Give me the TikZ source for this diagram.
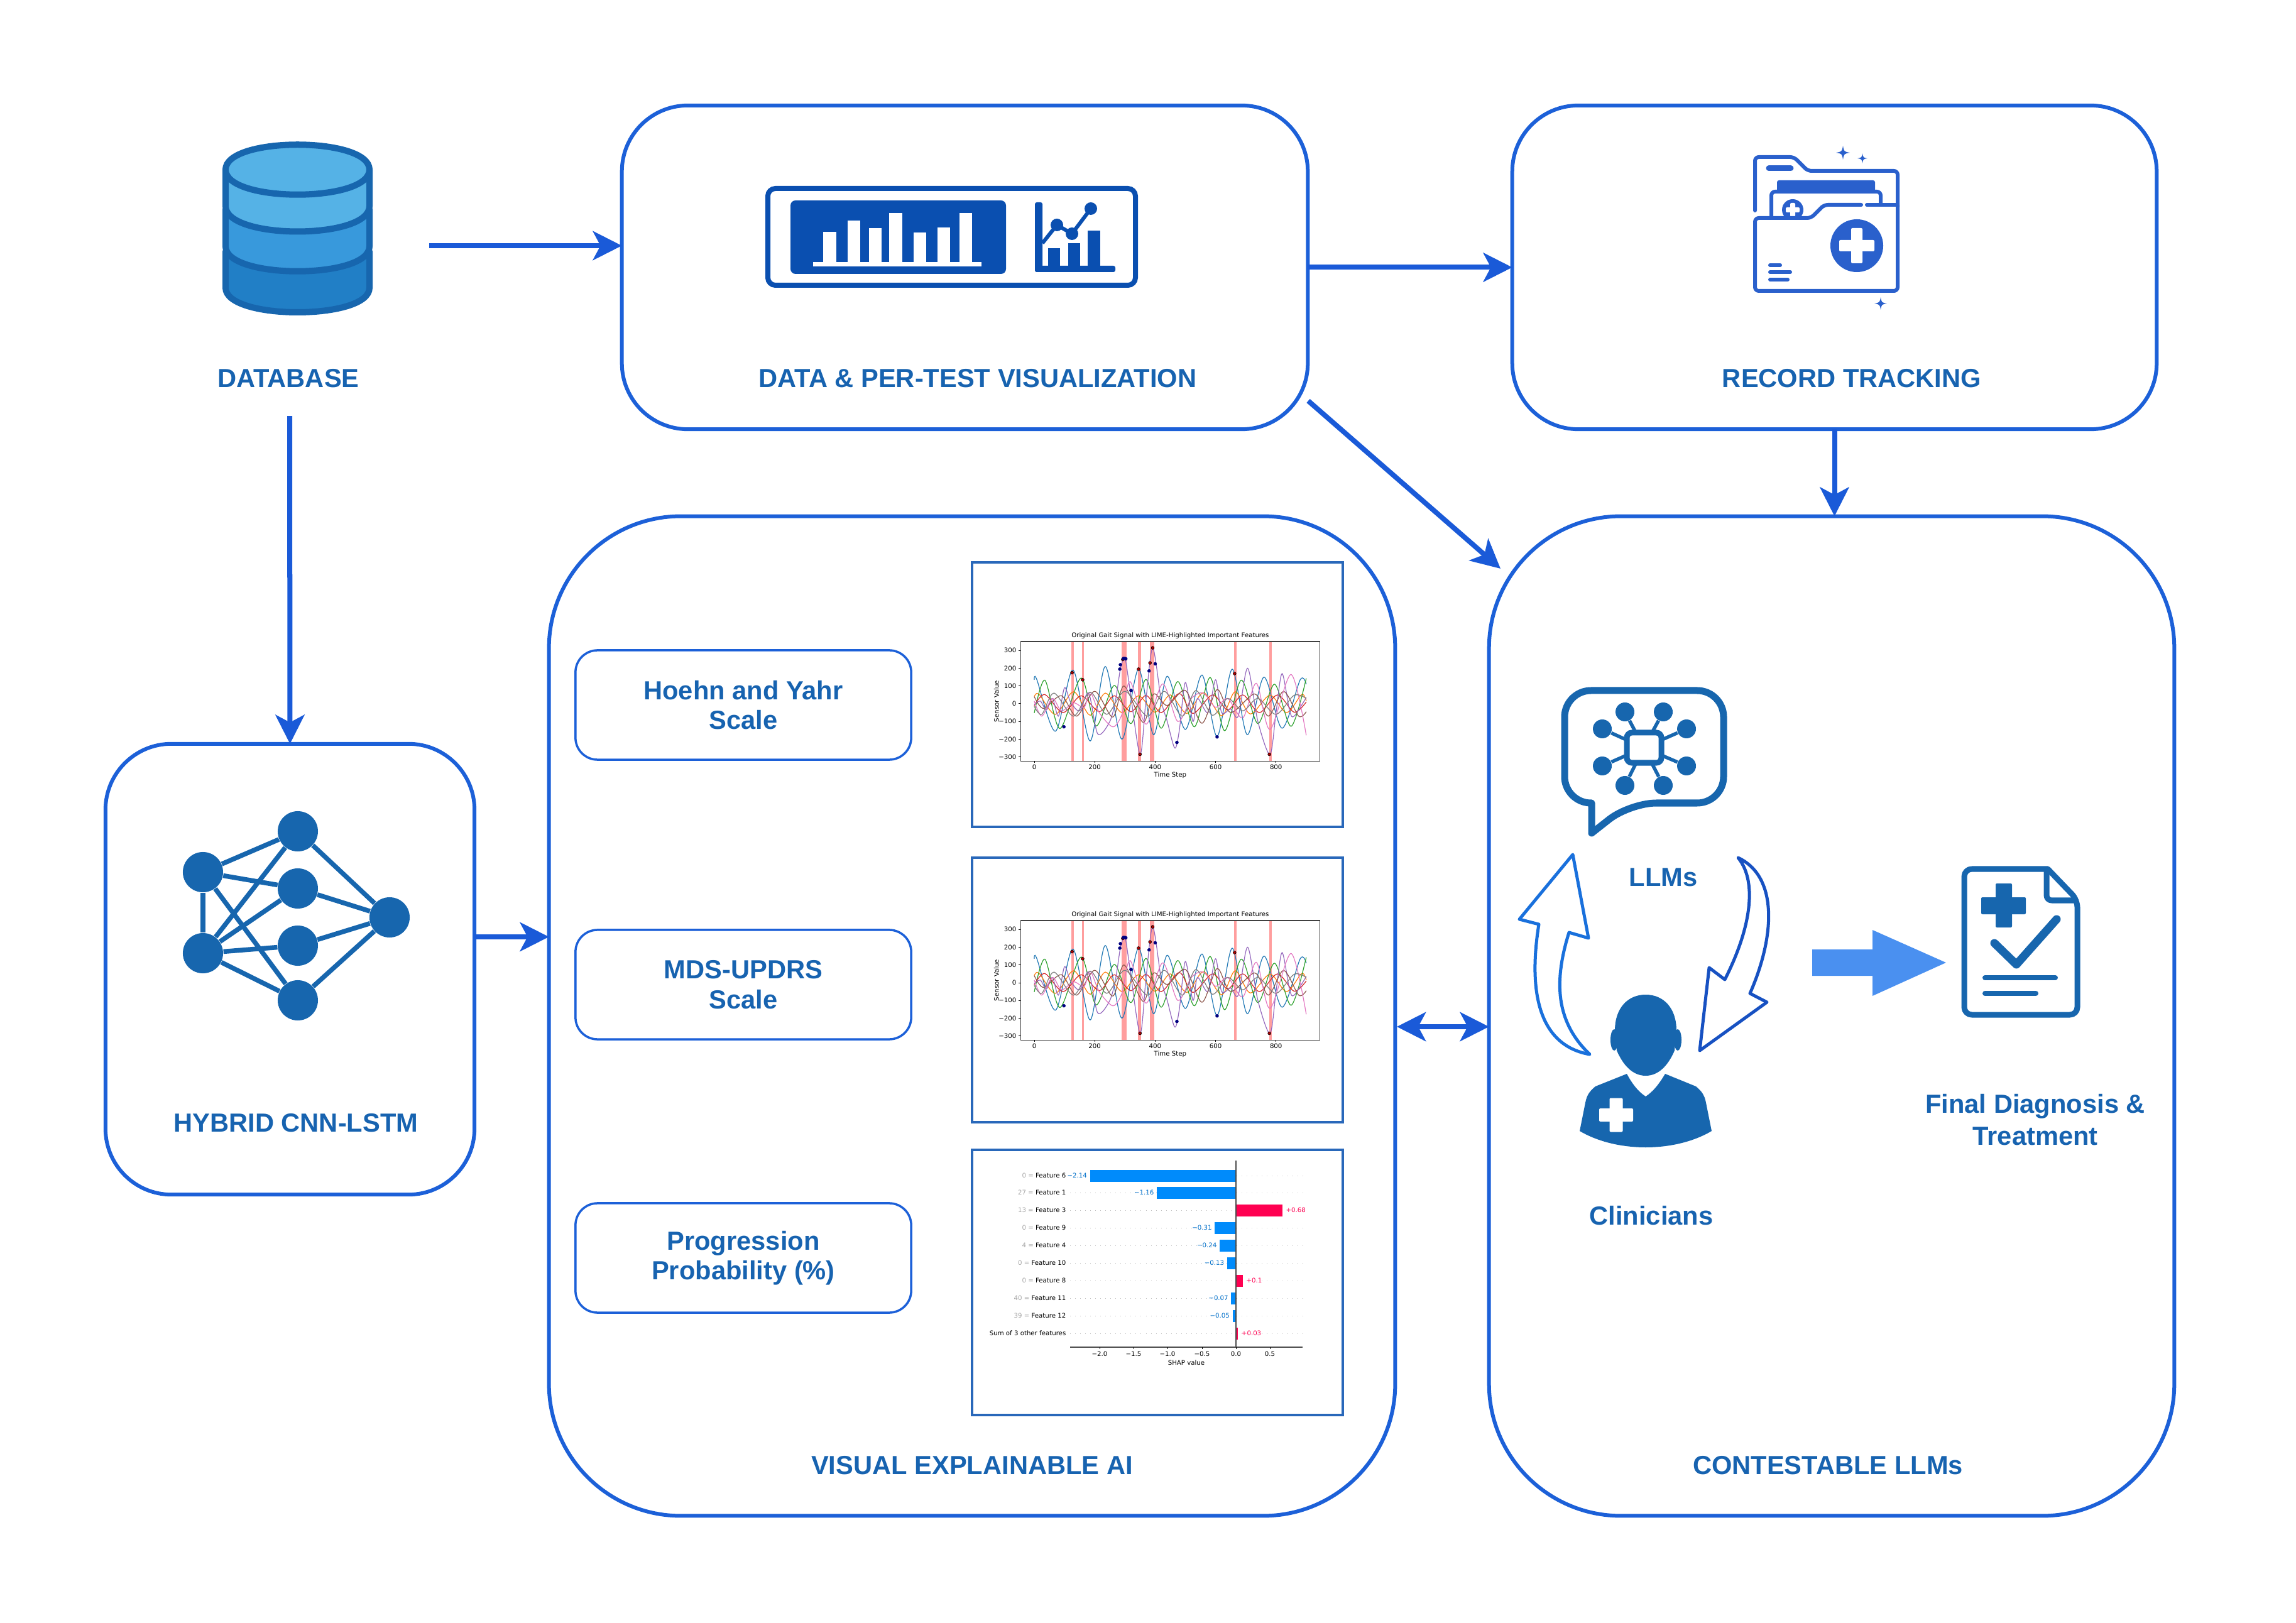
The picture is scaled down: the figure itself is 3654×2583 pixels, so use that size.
\documentclass[tikz,border=0pt]{standalone}
\usepackage{fontspec}
\usepackage{xcolor}
\usepackage{tikz}
\usetikzlibrary{arrows.meta}
\setmainfont{Liberation Sans}
\newfontfamily\plotfont{DejaVu Sans}

\definecolor{boxblue}{HTML}{1C60D8}
\definecolor{arrowblue}{HTML}{1A5AD8}
\definecolor{textblue}{HTML}{1763B0}
\definecolor{iconblue}{HTML}{1766AE}
\definecolor{chartblue}{HTML}{0A4FB0}
\definecolor{folderblue}{HTML}{2A60CC}
\definecolor{frameblue}{HTML}{2968BA}
\definecolor{shapblue}{HTML}{008BFB}
\definecolor{shappink}{HTML}{FF0051}
\definecolor{dbtop}{HTML}{55B2E6}
\definecolor{dbmid}{HTML}{3899DC}
\definecolor{dblow}{HTML}{217FC6}
\definecolor{bigarrow}{HTML}{4A90F0}
\definecolor{tabblue}{HTML}{1F77B4}
\definecolor{taborange}{HTML}{FF7F0E}
\definecolor{tabgreen}{HTML}{2CA02C}
\definecolor{tabred}{HTML}{D62728}
\definecolor{tabpurple}{HTML}{9467BD}
\definecolor{tabbrown}{HTML}{8C564B}
\definecolor{tabpink}{HTML}{E377C2}
\definecolor{tabgray}{HTML}{7F7F7F}

\tikzset{
    bigbox/.style={draw=boxblue, line width=0.06cm, rounded corners=1.05cm, outer sep=0pt},
    hugebox/.style={draw=boxblue, line width=0.06cm, rounded corners=2.1cm, outer sep=0pt},
    scalebox/.style={draw=boxblue, line width=0.035cm, rounded corners=0.35cm, align=center,
        minimum width=5.34cm, minimum height=1.74cm, inner sep=0pt,
        text=textblue, font=\bfseries\fontsize{11.85pt}{13.5pt}\selectfont},
    frontier/.style={inner sep=0pt, outer sep=0pt, minimum width=4.44cm, minimum height=5.42cm},
    title/.style={text=textblue, align=center, inner sep=0pt,
        font=\bfseries\fontsize{11.85pt}{14.3pt}\selectfont},
    plotframe/.style={draw=frameblue, line width=0.045cm},
    flow/.style={draw=arrowblue, line width=0.08cm, -{Stealth[length=0.46cm,width=0.46cm,inset=0.12cm]}},
    twoway/.style={draw=arrowblue, line width=0.08cm,
        {Stealth[length=0.46cm,width=0.46cm,inset=0.12cm]}-{Stealth[length=0.46cm,width=0.46cm,inset=0.12cm]}},
    nnnode/.style={circle, fill=iconblue, inner sep=0pt, minimum size=0.64cm},
    nnedge/.style={draw=iconblue, line width=0.075cm},
    chipnode/.style={circle, fill=iconblue, inner sep=0pt, minimum size=0.3cm},
    ticktext/.style={inner sep=0pt, font=\plotfont\fontsize{2.9pt}{3.4pt}\selectfont},
    sig/.style={line width=0.012cm},
    hotdot/.style={fill=red!70!black, draw=black, line width=0.006cm},
    colddot/.style={fill=blue!50!black, draw=blue!50!black, line width=0.006cm}
}

\newcommand{\sparkle}[3]{
    \fill[folderblue] (#1,#2-#3) .. controls (#1+0.15*#3,#2-0.15*#3) .. (#1+#3,#2)
        .. controls (#1+0.15*#3,#2+0.15*#3) .. (#1,#2+#3)
        .. controls (#1-0.15*#3,#2+0.15*#3) .. (#1-#3,#2)
        .. controls (#1-0.15*#3,#2-0.15*#3) .. cycle;
}
\newcommand{\medcross}[5]{
    \fill[#5, rounded corners=0.02cm] (#1-#3,#2-#4) rectangle (#1+#3,#2+#4);
    \fill[#5, rounded corners=0.02cm] (#1-#4,#2-#3) rectangle (#1+#4,#2+#3);
}

% the gait plot, drawn in its own data units
\newcommand{\gaitplot}[2]{
    \begin{scope}[shift={(1646,#2)}, x=0.0048cm, y=0.00282cm]
        \foreach \a/\b in {123/130,158/165,290/295,296/306,343/348,348/354,382/390,390/398,662/670,778/786}
            \fill[red, opacity=0.38] (\a,-323) rectangle (\b,351);
        \draw[sig, color=tabblue] plot[smooth] coordinates {(0,135)(8,138)(70,-155)(128,190)(185,-210)(235,210)(290,-200)(345,195)(395,-175)(440,155)(500,-145)(555,162)(605,-185)(655,195)(705,-175)(760,150)(820,-138)(880,135)(900,110)};
        \draw[sig, color=taborange] plot[smooth] coordinates {(0,40)(15,55)(70,-60)(130,68)(185,-65)(235,60)(290,-50)(345,45)(400,-48)(450,50)(505,-55)(560,62)(620,-68)(665,68)(715,-58)(780,48)(835,-50)(885,52)(900,15)};
        \draw[sig, color=tabgreen] plot[smooth] coordinates {(0,-52)(35,133)(85,-140)(155,145)(205,-125)(265,103)(320,-112)(370,137)(420,-138)(475,125)(530,-130)(582,148)(630,-152)(685,133)(740,-112)(795,110)(850,-127)(900,143)};
        \draw[sig, color=tabred] plot[smooth] coordinates {(0,-10)(35,52)(95,-50)(155,45)(215,-45)(265,45)(320,-45)(370,47)(420,-50)(480,58)(525,-55)(590,50)(640,-35)(690,50)(745,-50)(805,50)(860,-48)(900,10)};
        \draw[sig, color=tabpurple] plot[smooth] coordinates {(0,-5)(20,15)(40,-35)(60,30)(80,-70)(100,90)(120,10)(150,-40)(180,60)(210,-170)(250,-100)(270,30)(285,195)(300,255)(315,100)(350,-285)(370,30)(392,315)(420,20)(440,-100)(465,-250)(480,-150)(500,120)(525,-100)(540,30)(575,-50)(600,135)(620,-50)(650,-30)(675,-70)(706,200)(740,-100)(780,-285)(800,-50)(820,170)(845,-40)(860,-70)(900,35)};
        \draw[sig, color=tabbrown] plot[smooth] coordinates {(0,40)(15,-5)(35,-25)(90,45)(140,-70)(200,70)(260,-75)(297,100)(360,-105)(395,55)(440,-10)(500,75)(555,-110)(605,80)(650,-50)(730,55)(775,-70)(825,70)(875,-70)(900,-45)};
        \draw[sig, color=tabpink] plot[smooth] coordinates {(0,15)(25,-70)(60,30)(90,-40)(130,5)(165,-20)(185,65)(215,-50)(260,-130)(290,-60)(317,125)(370,-115)(425,112)(475,-100)(520,30)(560,60)(600,-20)(640,30)(690,-80)(735,115)(780,-145)(850,165)(900,-178)};
        \draw[sig, color=tabgray] plot[smooth] coordinates {(0,-15)(25,-60)(65,60)(130,-70)(185,65)(240,-60)(300,70)(375,-70)(430,70)(490,-70)(535,75)(590,-65)(640,30)(690,-40)(740,30)(800,-60)(860,48)(900,30)};
        \foreach \px/\py in {125/175,160/135,293/250,345/195,350/-285,383/230,392/315,663/170,778/-285}
            \draw[hotdot] (\px,\py) circle (0.024cm);
        \foreach \px/\py in {98/-130,283/195,285/220,295/255,300/255,303/253,320/75,380/185,400/225,472/-218,605/-187}
            \draw[colddot] (\px,\py) circle (0.024cm);
        \draw[line width=0.014cm, draw=black!75] (-45,-323) rectangle (945,351);
        \foreach \t in {0,200,400,600,800} {
            \draw[line width=0.01cm] (\t,-323) -- (\t,-334);
            \node[ticktext] (#1x\t) at (\t,-358) {\t};
        }
        \foreach \t/\s in {300/300,200/200,100/100,0/0,-100/−100,-200/−200,-300/−300} {
            \draw[line width=0.01cm] (-45,\t) -- (-52,\t);
            \node[ticktext, anchor=east] (#1y\t) at (-58,\t) {\s};
        }
        \node[ticktext] (#1title) at (450,383) {Original Gait Signal with LIME-Highlighted Important Features};
        \node[ticktext] (#1xlabel) at (450,-403) {Time Step};
        \node[ticktext, rotate=90] (#1ylabel) at (-125,14) {Sensor Value};
    \end{scope}
}

\begin{document}
\begin{tikzpicture}[x=0.01cm, y=-0.01cm]
    \useasboundingbox (0,0) rectangle (3654,2583);

    % boxes
    \node[bigbox, minimum width=10.91cm, minimum height=5.15cm] (data) at (1535.5,425.5) {};
    \node[bigbox, minimum width=10.25cm, minimum height=5.15cm] (record) at (2919.5,425.5) {};
    \node[bigbox, minimum width=5.87cm, minimum height=7.17cm] (hybrid) at (461.5,1542.5) {};
    \node[hugebox, minimum width=13.46cm, minimum height=15.9cm] (xai) at (1547,1617) {};
    \node[hugebox, minimum width=10.9cm, minimum height=15.9cm] (contest) at (2915,1617) {};
    \node[frontier] (database) at (461,391) {};

    \node[scalebox] (hoehn) at (1183,1122) {Hoehn and Yahr\\ Scale};
    \node[scalebox] (updrs) at (1183,1567) {MDS-UPDRS\\ Scale};
    \node[scalebox] (progress) at (1183,2002) {Progression\\ Probability (\%)};

    % labels
    \node[title] (dblabel) at (459,602) {DATABASE};
    \node[title] (datalabel) at (1556,602) {DATA \& PER-TEST VISUALIZATION};
    \node[title] (recordlabel) at (2947,602) {RECORD TRACKING};
    \node[title] (hybridlabel) at (471,1787) {HYBRID CNN-LSTM};
    \node[title] (xailabel) at (1547,2332) {VISUAL EXPLAINABLE AI};
    \node[title] (contestlabel) at (2909,2332) {CONTESTABLE LLMs};
    \node[title] (llmlabel) at (2647,1396) {LLMs};
    \node[title] (cliniclabel) at (2628,1935) {Clinicians};
    \node[title] (finallabel) at (3239,1782) {Final Diagnosis \&\\ Treatment};

    % connectors
    \coordinate (datacorner) at (2082,638);
    \coordinate (contestcorner) at (2388,905);
    \coordinate (hybridout) at (755,1491);
    \coordinate (xaiout) at (2223,1634);
    \draw[flow] (database.east) -- (database.east -| data.west);
    \draw[flow] (database.south) -- (hybrid.north);
    \draw[flow] (data.east) -- (record.west);
    \draw[flow] (datacorner) -- (contestcorner);
    \draw[flow] (record.south) -- (record.south |- contest.north);
    \draw[flow] (hybridout) -- (hybridout -| xai.west);
    \draw[twoway] (xaiout) -- (xaiout -| contest.west);

    % database icon
    \begin{scope}[draw=iconblue, line width=0.1cm, line join=round]
        \filldraw[fill=dblow] (359,400) -- (359,458) .. controls (359,510) and (588,510) .. (588,458) -- (588,400) -- cycle;
        \filldraw[fill=dbmid] (359,333) -- (359,392) .. controls (359,445) and (588,445) .. (588,392) -- (588,333) -- cycle;
        \filldraw[fill=dbtop] (359,270) -- (359,328) .. controls (359,382) and (588,382) .. (588,328) -- (588,270) -- cycle;
        \filldraw[fill=dbtop] (359,270) .. controls (359,217) and (588,217) .. (588,270) .. controls (588,323) and (359,323) .. cycle;
    \end{scope}

    % chart icon
    \draw[draw=chartblue, line width=0.08cm, rounded corners=0.12cm] (1807,300) -- (1222,300) -- (1222,454) -- (1807,454) -- cycle;
    \fill[chartblue, rounded corners=0.08cm] (1258,319) rectangle (1601,436);
    \foreach \a/\b/\t in {1310/1331/369,1349/1369/351,1383/1403/363,1415/1436/339,1454/1474/370,1492/1512/362,1527/1547/339}
        \fill[white] (\a,\t) rectangle (\b,418);
    \fill[white] (1294,417) rectangle (1562,424);
    \fill[chartblue, rounded corners=0.03cm] (1647,322) rectangle (1659,433);
    \fill[chartblue, rounded corners=0.03cm] (1647,423) rectangle (1775,433);
    \foreach \a/\b/\t in {1668/1687/395,1700/1719/387,1731/1751/367}
        \fill[chartblue] (\a,\t) rectangle (\b,424);
    \draw[draw=chartblue, line width=0.06cm] (1659,387) -- (1682,358) -- (1706,372) -- (1736,332);
    \foreach \a/\b in {1682/358,1706/372,1736/332}
        \fill[chartblue] (\a,\b) circle (0.1cm);

    % folder icon
    \begin{scope}[draw=folderblue, line width=0.06cm, line cap=round, line join=round]
        \draw[rounded corners=0.06cm] (2793,335) -- (2793,250) -- (2855,250) -- (2877,272) -- (3020,272) -- (3020,330);
        \draw[rounded corners=0.06cm] (2819,345) -- (2819,305) -- (2993,305) -- (2993,326);
        \fill[folderblue, rounded corners=0.03cm] (2828,287) rectangle (2984,307);
        \fill[folderblue] (2853,334) circle (0.17cm);
        \medcross{2853}{334}{11}{4}{white}
        \fill[white] (2825,347) rectangle (2885,360);
        \draw[rounded corners=0.06cm] (3020,326) -- (3020,463) -- (2793,463) -- (2793,347) -- (2882,347) -- (2903,326) -- (2962,326);
        \draw (2971,326) -- (3020,326);
        \draw[line width=0.09cm] (2815,268) -- (2850,268);
        \draw (2817,422) -- (2833,422);
        \draw (2817,433) -- (2849,433);
        \draw (2817,445) -- (2845,445);
    \end{scope}
    \fill[folderblue] (2955,391) circle (0.42cm);
    \medcross{2955}{391}{28}{9}{white}
    \sparkle{2933}{243}{11}
    \sparkle{2964}{252}{8}
    \sparkle{2993}{483}{10}

    % network icon
    \foreach \n/\px/\py in {a/323/1388,b/323/1517,c/474/1323,d/474/1414,e/474/1505,f/474/1592,g/620/1460}
        \node[nnnode] (nn\n) at (\px,\py) {};
    \foreach \s/\t in {a/c,a/d,a/f,a/b,b/c,b/d,b/e,b/f,c/g,d/g,e/g,f/g}
        \draw[nnedge] (nn\s) -- (nn\t);

    % plots
    \draw[plotframe] (1547,895) rectangle (2137,1316);
    \gaitplot{first}{1120}
    \draw[plotframe] (1547,1365) rectangle (2137,1786);
    \gaitplot{second}{1564}
    \draw[plotframe] (1547,1830) rectangle (2137,2252);

    % shap chart
    \foreach \row in {1871,1898,1926,1954,1982,2010,2038,2066,2094,2122}
        \draw[gray!50, line width=0.01cm, dotted] (1703,\row) -- (2073,\row);
    \foreach \i/\row/\v/\s in {a/1871/-2.14/−2.14,b/1898/-1.16/−1.16,d/1954/-0.31/−0.31,e/1982/-0.24/−0.24,f/2010/-0.13/−0.13,h/2066/-0.07/−0.07,k/2094/-0.05/−0.05} {
        \fill[shapblue] (1967,\row-9.5) rectangle (1967+108.6*\v,\row+9.5);
        \node[ticktext, anchor=east, text=shapblue!80!black] (shapval\i) at (1963+108.6*\v,\row) {\s};
    }
    \foreach \i/\row/\v/\s in {c/1926/0.68/+0.68,g/2038/0.1/+0.1,m/2122/0.03/+0.03} {
        \fill[shappink] (1967,\row-9.5) rectangle (1967+108.6*\v,\row+9.5);
        \node[ticktext, anchor=west, text=shappink] (shapval\i) at (1972+108.6*\v,\row) {\s};
    }
    \foreach \i/\row/\g/\f in {a/1871/0/Feature 6,b/1898/27/Feature 1,c/1926/13/Feature 3,d/1954/0/Feature 9,e/1982/4/Feature 4,f/2010/0/Feature 10,g/2038/0/Feature 8,h/2066/40/Feature 11,k/2094/39/Feature 12}
        \node[ticktext, anchor=east] (shapfeat\i) at (1697,\row) {{\color{gray!70}\g\ =} \f};
    \node[ticktext, anchor=east] (shapfeatm) at (1697,2122) {Sum of 3 other features};
    \draw[line width=0.012cm, draw=black!70] (1967,1847) -- (1967,2144);
    \draw[line width=0.012cm, draw=black!70] (1703,2144) -- (2073,2144);
    \foreach \i/\x/\s in {a/1750/−2.0,b/1804/−1.5,c/1858/−1.0,d/1913/−0.5,e/1967/0.0,f/2021/0.5} {
        \draw[line width=0.01cm] (\x,2144) -- (\x,2147);
        \node[ticktext] (shaptick\i) at (\x,2155) {\s};
    }
    \node[ticktext] (shaplabel) at (1888,2169) {SHAP value};

    % LLM icon
    \draw[draw=iconblue, line width=0.11cm, line join=round] (2533,1326) [sharp corners] -- (2533,1278) [rounded corners=0.42cm] -- (2490,1278) -- (2490,1099) -- (2743,1099) -- (2743,1278) -- (2594,1278) [sharp corners] -- cycle;
    \foreach \n/\px/\py in {a/2586/1133,b/2647/1133,c/2550/1160,d/2684/1160,e/2550/1219,f/2684/1219,g/2586/1250,h/2647/1250} {
        \node[chipnode] (chip\n) at (\px,\py) {};
        \draw[draw=iconblue, line width=0.055cm] (chip\n) -- (2616,1190);
    }
    \draw[draw=iconblue, fill=white, line width=0.09cm, rounded corners=0.08cm] (2589,1166) rectangle (2644,1214);

    % loop arrows
    \draw[draw=boxblue!90!cyan, line width=0.05cm, line join=round] (2503,1360) -- (2418,1463) -- (2449,1471) .. controls (2430,1590) and (2455,1665) .. (2530,1678) .. controls (2480,1630) and (2470,1570) .. (2497,1484) -- (2528,1493) -- cycle;
    \draw[draw=arrowblue!90!black, line width=0.05cm, line join=round] (2766,1365) .. controls (2830,1395) and (2825,1490) .. (2785,1581) -- (2812,1595) -- (2705,1672) -- (2720,1540) -- (2745,1559) .. controls (2790,1470) and (2795,1400) .. cycle;
    \fill[bigarrow] (2884,1511) -- (2980,1511) -- (2980,1480) -- (3097,1532) -- (2980,1585) -- (2980,1553) -- (2884,1553) -- cycle;

    % clinician icon
    \fill[iconblue] (2570,1640) .. controls (2570,1605) and (2590,1583) .. (2619,1583) .. controls (2648,1583) and (2668,1605) .. (2668,1640) -- (2665,1672) .. controls (2655,1695) and (2640,1712) .. (2619,1712) .. controls (2598,1712) and (2583,1695) .. (2573,1672) -- cycle;
    \fill[iconblue] (2569,1655) ellipse [x radius=0.06cm, y radius=0.17cm];
    \fill[iconblue] (2670,1655) ellipse [x radius=0.06cm, y radius=0.17cm];
    \fill[iconblue] (2589,1709) .. controls (2598,1726) and (2608,1738) .. (2619,1745) .. controls (2630,1738) and (2640,1726) .. (2650,1709) -- (2699,1729) .. controls (2710,1738) and (2713,1745) .. (2715,1755) -- (2724,1800) .. controls (2690,1820) and (2650,1826) .. (2619,1826) .. controls (2588,1826) and (2548,1820) .. (2514,1800) -- (2523,1755) .. controls (2525,1745) and (2528,1738) .. (2539,1729) -- cycle;
    \medcross{2572}{1774.5}{27}{10.5}{white}

    % report icon
    \begin{scope}[draw=iconblue, line width=0.09cm, line join=round]
        \draw[rounded corners=0.12cm] (3259,1383) -- (3126,1383) -- (3126,1615) -- (3306,1615) -- (3306,1432) [sharp corners] -- (3259,1383) -- cycle;
        \draw[rounded corners=0.08cm] (3257,1383) -- (3257,1433) -- (3306,1433);
        \draw[line cap=round, line width=0.08cm] (3159,1556) -- (3271,1556);
        \draw[line cap=round, line width=0.08cm] (3159,1581) -- (3240,1581);
        \draw[line cap=round, line width=0.13cm] (3174,1501) -- (3209,1535) -- (3273,1463);
    \end{scope}
    \fill[iconblue, rounded corners=0.02cm] (3153,1428) rectangle (3224,1455);
    \fill[iconblue, rounded corners=0.02cm] (3176,1406) rectangle (3202,1476);
\end{tikzpicture}
\end{document}
